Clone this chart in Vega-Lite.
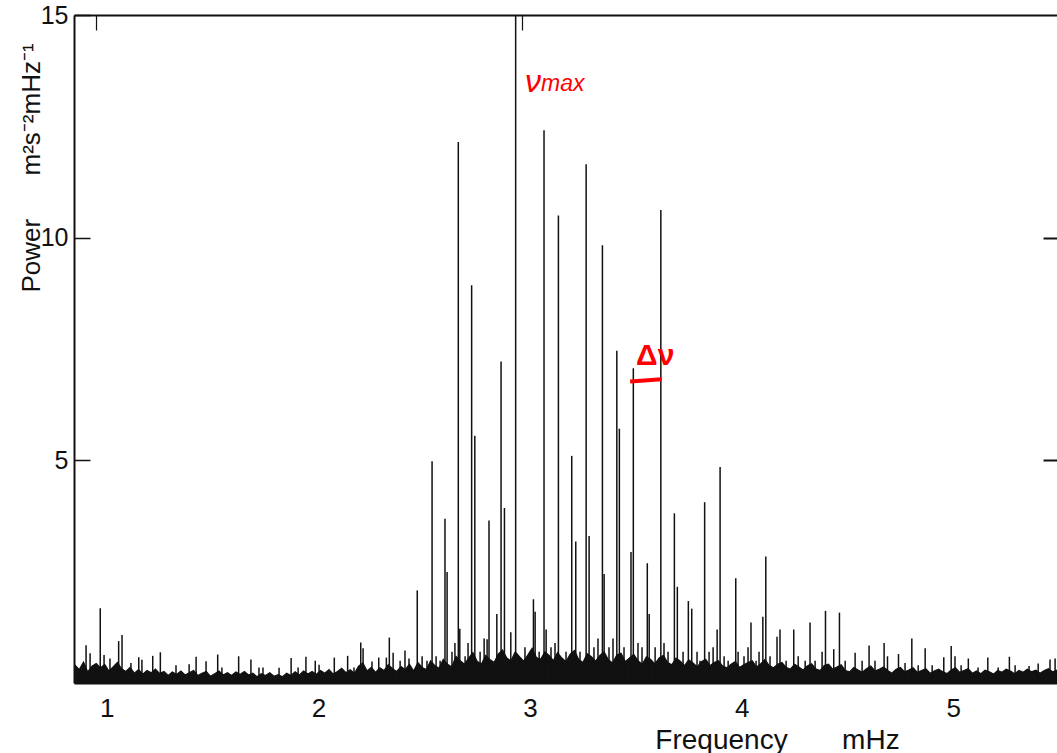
{
  "$schema": "https://vega.github.io/schema/vega-lite/v6.json",
  "width": 983,
  "height": 668,
  "autosize": {"type": "none"},
  "padding": {"left": 74, "top": 15, "right": 0, "bottom": 70},
  "background": "white",
  "config": {
    "view": {"stroke": null},
    "font": "Liberation Sans",
    "axis": {"grid": false, "domainColor": "#111", "tickColor": "#111", "labelColor": "#111", "titleColor": "#111", "labelFont": "Liberation Sans", "titleFont": "Liberation Sans", "titleFontWeight": "normal"}
  },
  "datasets": {
    "noise": [
      {"f":0.85,"p":0.40},{"f":0.87,"p":0.30},{"f":0.89,"p":0.47},{"f":0.91,"p":0.25},{"f":0.93,"p":0.38},{"f":0.95,"p":0.44},{"f":0.97,"p":0.34},{"f":0.99,"p":0.42},{"f":1.01,"p":0.27},{"f":1.03,"p":0.36},{"f":1.05,"p":0.46},{"f":1.07,"p":0.32},{"f":1.09,"p":0.26},{"f":1.11,"p":0.35},{"f":1.13,"p":0.22},{"f":1.15,"p":0.30},{"f":1.17,"p":0.20},{"f":1.19,"p":0.28},{"f":1.21,"p":0.23},{"f":1.23,"p":0.31},{"f":1.25,"p":0.21},{"f":1.27,"p":0.26},{"f":1.29,"p":0.17},{"f":1.31,"p":0.25},{"f":1.33,"p":0.19},{"f":1.35,"p":0.27},{"f":1.37,"p":0.18},{"f":1.39,"p":0.23},{"f":1.41,"p":0.28},{"f":1.43,"p":0.17},{"f":1.45,"p":0.22},{"f":1.47,"p":0.26},{"f":1.49,"p":0.15},{"f":1.51,"p":0.21},{"f":1.53,"p":0.27},{"f":1.55,"p":0.18},{"f":1.57,"p":0.23},{"f":1.59,"p":0.17},{"f":1.61,"p":0.25},{"f":1.63,"p":0.19},{"f":1.65,"p":0.26},{"f":1.67,"p":0.18},{"f":1.69,"p":0.22},{"f":1.71,"p":0.14},{"f":1.73,"p":0.21},{"f":1.75,"p":0.17},{"f":1.77,"p":0.23},{"f":1.79,"p":0.15},{"f":1.81,"p":0.19},{"f":1.83,"p":0.14},{"f":1.85,"p":0.22},{"f":1.87,"p":0.17},{"f":1.89,"p":0.25},{"f":1.91,"p":0.18},{"f":1.93,"p":0.27},{"f":1.95,"p":0.2},{"f":1.97,"p":0.26},{"f":1.99,"p":0.19},{"f":2.01,"p":0.28},{"f":2.03,"p":0.22},{"f":2.05,"p":0.3},{"f":2.07,"p":0.2},{"f":2.09,"p":0.26},{"f":2.11,"p":0.33},{"f":2.13,"p":0.23},{"f":2.15,"p":0.3},{"f":2.17,"p":0.22},{"f":2.19,"p":0.38},{"f":2.21,"p":0.45},{"f":2.23,"p":0.27},{"f":2.25,"p":0.35},{"f":2.27,"p":0.24},{"f":2.29,"p":0.34},{"f":2.31,"p":0.28},{"f":2.33,"p":0.41},{"f":2.35,"p":0.32},{"f":2.37,"p":0.26},{"f":2.39,"p":0.37},{"f":2.41,"p":0.3},{"f":2.43,"p":0.42},{"f":2.45,"p":0.27},{"f":2.47,"p":0.46},{"f":2.49,"p":0.35},{"f":2.51,"p":0.3},{"f":2.53,"p":0.5},{"f":2.55,"p":0.39},{"f":2.57,"p":0.33},{"f":2.59,"p":0.53},{"f":2.61,"p":0.42},{"f":2.63,"p":0.36},{"f":2.65,"p":0.6},{"f":2.67,"p":0.5},{"f":2.69,"p":0.42},{"f":2.71,"p":0.56},{"f":2.73,"p":0.68},{"f":2.75,"p":0.49},{"f":2.77,"p":0.42},{"f":2.79,"p":0.62},{"f":2.81,"p":0.53},{"f":2.83,"p":0.46},{"f":2.85,"p":0.65},{"f":2.87,"p":0.74},{"f":2.89,"p":0.56},{"f":2.91,"p":0.5},{"f":2.93,"p":0.7},{"f":2.95,"p":0.59},{"f":2.97,"p":0.49},{"f":2.99,"p":0.63},{"f":3.01,"p":0.78},{"f":3.03,"p":0.57},{"f":3.05,"p":0.53},{"f":3.07,"p":0.7},{"f":3.09,"p":0.62},{"f":3.11,"p":0.5},{"f":3.13,"p":0.68},{"f":3.15,"p":0.56},{"f":3.17,"p":0.48},{"f":3.19,"p":0.65},{"f":3.21,"p":0.73},{"f":3.23,"p":0.53},{"f":3.25,"p":0.46},{"f":3.27,"p":0.66},{"f":3.29,"p":0.59},{"f":3.31,"p":0.49},{"f":3.33,"p":0.62},{"f":3.35,"p":0.7},{"f":3.37,"p":0.52},{"f":3.39,"p":0.45},{"f":3.41,"p":0.63},{"f":3.43,"p":0.67},{"f":3.45,"p":0.48},{"f":3.47,"p":0.56},{"f":3.49,"p":0.64},{"f":3.51,"p":0.5},{"f":3.53,"p":0.42},{"f":3.55,"p":0.59},{"f":3.57,"p":0.53},{"f":3.59,"p":0.43},{"f":3.61,"p":0.56},{"f":3.63,"p":0.62},{"f":3.65,"p":0.46},{"f":3.67,"p":0.41},{"f":3.69,"p":0.56},{"f":3.71,"p":0.49},{"f":3.73,"p":0.39},{"f":3.75,"p":0.52},{"f":3.77,"p":0.45},{"f":3.79,"p":0.36},{"f":3.81,"p":0.48},{"f":3.83,"p":0.53},{"f":3.85,"p":0.39},{"f":3.87,"p":0.46},{"f":3.89,"p":0.5},{"f":3.91,"p":0.38},{"f":3.93,"p":0.34},{"f":3.95,"p":0.42},{"f":3.97,"p":0.48},{"f":3.99,"p":0.35},{"f":4.01,"p":0.41},{"f":4.03,"p":0.46},{"f":4.05,"p":0.5},{"f":4.07,"p":0.36},{"f":4.09,"p":0.43},{"f":4.11,"p":0.53},{"f":4.13,"p":0.39},{"f":4.15,"p":0.34},{"f":4.17,"p":0.42},{"f":4.19,"p":0.46},{"f":4.21,"p":0.35},{"f":4.23,"p":0.31},{"f":4.25,"p":0.42},{"f":4.27,"p":0.36},{"f":4.29,"p":0.29},{"f":4.31,"p":0.38},{"f":4.33,"p":0.43},{"f":4.35,"p":0.32},{"f":4.37,"p":0.28},{"f":4.39,"p":0.39},{"f":4.41,"p":0.42},{"f":4.43,"p":0.31},{"f":4.45,"p":0.36},{"f":4.47,"p":0.41},{"f":4.49,"p":0.28},{"f":4.51,"p":0.25},{"f":4.53,"p":0.35},{"f":4.55,"p":0.29},{"f":4.57,"p":0.24},{"f":4.59,"p":0.32},{"f":4.61,"p":0.38},{"f":4.63,"p":0.27},{"f":4.65,"p":0.31},{"f":4.67,"p":0.36},{"f":4.69,"p":0.28},{"f":4.71,"p":0.22},{"f":4.73,"p":0.31},{"f":4.75,"p":0.35},{"f":4.77,"p":0.25},{"f":4.79,"p":0.29},{"f":4.81,"p":0.34},{"f":4.83,"p":0.24},{"f":4.85,"p":0.28},{"f":4.87,"p":0.32},{"f":4.89,"p":0.22},{"f":4.91,"p":0.27},{"f":4.93,"p":0.31},{"f":4.95,"p":0.25},{"f":4.97,"p":0.21},{"f":4.99,"p":0.29},{"f":5.01,"p":0.34},{"f":5.03,"p":0.24},{"f":5.05,"p":0.28},{"f":5.07,"p":0.32},{"f":5.09,"p":0.22},{"f":5.11,"p":0.27},{"f":5.13,"p":0.21},{"f":5.15,"p":0.29},{"f":5.17,"p":0.25},{"f":5.19,"p":0.2},{"f":5.21,"p":0.28},{"f":5.23,"p":0.24},{"f":5.25,"p":0.31},{"f":5.27,"p":0.27},{"f":5.29,"p":0.21},{"f":5.31,"p":0.28},{"f":5.33,"p":0.24},{"f":5.35,"p":0.31},{"f":5.37,"p":0.25},{"f":5.39,"p":0.29},{"f":5.41,"p":0.22},{"f":5.43,"p":0.28},{"f":5.45,"p":0.32},{"f":5.47,"p":0.25},{"f":5.49,"p":0.29}
    ],
    "peaks": [
      {"f":0.902,"p":0.85},{"f":0.921,"p":0.67},{"f":0.969,"p":1.68},{"f":0.987,"p":0.63},{"f":1.015,"p":0.55},{"f":1.056,"p":0.94},{"f":1.072,"p":1.08},{"f":1.114,"p":0.45},{"f":1.151,"p":0.58},{"f":1.166,"p":0.52},{"f":1.217,"p":0.61},{"f":1.253,"p":0.69},{"f":1.327,"p":0.4},{"f":1.389,"p":0.42},{"f":1.422,"p":0.59},{"f":1.469,"p":0.49},{"f":1.524,"p":0.64},{"f":1.544,"p":0.35},{"f":1.623,"p":0.6},{"f":1.681,"p":0.53},{"f":1.719,"p":0.35},{"f":1.738,"p":0.35},{"f":1.814,"p":0.34},{"f":1.871,"p":0.56},{"f":1.904,"p":0.35},{"f":1.941,"p":0.59},{"f":1.985,"p":0.5},{"f":2.003,"p":0.41},{"f":2.075,"p":0.57},{"f":2.138,"p":0.61},{"f":2.168,"p":0.35},{"f":2.2,"p":0.91},{"f":2.211,"p":0.78},{"f":2.253,"p":0.48},{"f":2.285,"p":0.57},{"f":2.321,"p":0.57},{"f":2.335,"p":1.02},{"f":2.353,"p":0.68},{"f":2.386,"p":0.5},{"f":2.409,"p":0.73},{"f":2.428,"p":0.55},{"f":2.467,"p":2.08},{"f":2.49,"p":0.6},{"f":2.513,"p":0.5},{"f":2.537,"p":4.98},{"f":2.556,"p":0.6},{"f":2.575,"p":0.5},{"f":2.598,"p":3.69},{"f":2.608,"p":2.49},{"f":2.631,"p":0.7},{"f":2.645,"p":0.9},{"f":2.661,"p":12.15},{"f":2.668,"p":1.22},{"f":2.693,"p":0.6},{"f":2.707,"p":0.9},{"f":2.724,"p":8.93},{"f":2.739,"p":5.55},{"f":2.764,"p":0.7},{"f":2.783,"p":1.0},{"f":2.797,"p":0.98},{"f":2.806,"p":3.65},{"f":2.843,"p":1.55},{"f":2.863,"p":7.22},{"f":2.879,"p":3.93},{"f":2.909,"p":1.14},{"f":2.932,"p":15.3},{"f":2.948,"p":0.6},{"f":2.976,"p":0.8},{"f":3.0,"p":0.7},{"f":3.016,"p":1.88},{"f":3.024,"p":1.6},{"f":3.043,"p":0.7},{"f":3.066,"p":12.41},{"f":3.076,"p":1.2},{"f":3.099,"p":0.8},{"f":3.118,"p":0.9},{"f":3.134,"p":10.5},{"f":3.17,"p":0.7},{"f":3.197,"p":5.1},{"f":3.216,"p":3.18},{"f":3.236,"p":0.7},{"f":3.265,"p":11.65},{"f":3.279,"p":3.3},{"f":3.302,"p":0.8},{"f":3.321,"p":1.0},{"f":3.342,"p":9.83},{"f":3.35,"p":2.45},{"f":3.373,"p":0.8},{"f":3.392,"p":1.0},{"f":3.41,"p":7.46},{"f":3.422,"p":5.71},{"f":3.444,"p":0.8},{"f":3.477,"p":2.94},{"f":3.488,"p":7.07},{"f":3.51,"p":0.9},{"f":3.529,"p":0.8},{"f":3.554,"p":2.69},{"f":3.563,"p":1.55},{"f":3.591,"p":0.8},{"f":3.618,"p":10.62},{"f":3.633,"p":0.9},{"f":3.652,"p":0.7},{"f":3.682,"p":3.81},{"f":3.696,"p":2.16},{"f":3.723,"p":0.7},{"f":3.748,"p":1.84},{"f":3.764,"p":1.67},{"f":3.789,"p":0.7},{"f":3.803,"p":0.5},{"f":3.825,"p":4.06},{"f":3.846,"p":0.7},{"f":3.865,"p":0.8},{"f":3.884,"p":1.2},{"f":3.898,"p":4.85},{"f":3.917,"p":0.6},{"f":3.936,"p":0.5},{"f":3.972,"p":2.35},{"f":3.983,"p":0.7},{"f":4.011,"p":0.6},{"f":4.03,"p":0.8},{"f":4.044,"p":1.36},{"f":4.068,"p":0.5},{"f":4.082,"p":0.7},{"f":4.1,"p":1.49},{"f":4.114,"p":2.84},{"f":4.134,"p":0.6},{"f":4.167,"p":1.04},{"f":4.181,"p":1.2},{"f":4.21,"p":0.5},{"f":4.246,"p":1.2},{"f":4.267,"p":0.6},{"f":4.3,"p":0.5},{"f":4.323,"p":1.36},{"f":4.347,"p":0.5},{"f":4.38,"p":0.7},{"f":4.396,"p":1.62},{"f":4.435,"p":0.76},{"f":4.462,"p":1.58},{"f":4.489,"p":0.5},{"f":4.536,"p":0.68},{"f":4.569,"p":0.5},{"f":4.602,"p":0.84},{"f":4.63,"p":0.5},{"f":4.673,"p":0.9},{"f":4.689,"p":0.6},{"f":4.741,"p":0.65},{"f":4.772,"p":0.45},{"f":4.804,"p":1.0},{"f":4.834,"p":0.4},{"f":4.867,"p":0.78},{"f":4.9,"p":0.4},{"f":4.955,"p":0.58},{"f":4.99,"p":0.83},{"f":5.008,"p":0.6},{"f":5.037,"p":0.4},{"f":5.071,"p":0.55},{"f":5.117,"p":0.35},{"f":5.163,"p":0.57},{"f":5.212,"p":0.35},{"f":5.265,"p":0.59},{"f":5.292,"p":0.4},{"f":5.358,"p":0.38},{"f":5.401,"p":0.44},{"f":5.457,"p":0.53},{"f":5.481,"p":0.55}
    ]
  },
  "resolve": {"axis": {"x": "independent", "y": "independent"}},
  "layer": [
    {
      "data": {"name": "noise"},
      "mark": {"type": "area", "color": "#111", "stroke": "#111", "strokeWidth": 1.2, "clip": true},
      "encoding": {
        "x": {"field": "f", "type": "quantitative", "scale": {"domain": [0.845, 5.49], "nice": false, "zero": false},
          "axis": {"orient": "bottom", "values": [1, 2, 3, 4, 5], "format": "d", "ticks": false, "domainWidth": 2, "labelFontSize": 26, "labelPadding": 12,
            "title": "Frequency\u00a0\u00a0\u00a0\u00a0\u00a0\u00a0\u00a0mHz", "titleFontSize": 28, "titleAlign": "center", "titleBaseline": "middle", "titleX": 703, "titleY": 57}},
        "y": {"field": "p", "type": "quantitative", "scale": {"domain": [0, 15], "nice": false},
          "axis": {"orient": "left", "values": [5, 10, 15], "tickSize": -16, "tickWidth": 1.5, "domainWidth": 2, "labelFontSize": 25, "labelPadding": 22, "labelBaseline": "middle",
            "title": "Power\u00a0\u00a0\u00a0\u00a0\u00a0\u00a0m²s⁻²mHz⁻¹", "titleFontSize": 26, "titleAngle": -90, "titleAlign": "left", "titleBaseline": "alphabetic", "titleX": -35, "titleY": 277}}
      }
    },
    {
      "data": {"name": "peaks"},
      "mark": {"type": "rule", "color": "#111", "strokeWidth": 1.5, "clip": true},
      "encoding": {
        "x": {"field": "f", "type": "quantitative",
          "axis": {"orient": "top", "values": [0.95, 2.96], "labels": false, "tickSize": -15, "tickWidth": 1.2, "domainWidth": 2, "title": null}},
        "y": {"field": "p", "type": "quantitative",
          "axis": {"orient": "right", "values": [5, 10], "labels": false, "domain": false, "tickSize": -14, "tickWidth": 2, "title": null}},
        "y2": {"datum": 0}
      }
    },
    {
      "data": {"values": [{"f": 2.976, "p": 13.27, "label": "ν"}]},
      "mark": {"type": "text", "color": "#ff0000", "font": "Liberation Sans", "fontSize": 32, "fontStyle": "italic", "align": "left", "baseline": "alphabetic"},
      "encoding": {"x": {"field": "f", "type": "quantitative", "axis": null}, "y": {"field": "p", "type": "quantitative", "axis": null}, "text": {"field": "label"}}
    },
    {
      "data": {"values": [{"f": 3.052, "p": 13.29, "label": "max"}]},
      "mark": {"type": "text", "color": "#ff0000", "font": "Liberation Sans", "fontSize": 23, "fontStyle": "italic", "align": "left", "baseline": "alphabetic"},
      "encoding": {"x": {"field": "f", "type": "quantitative", "axis": null}, "y": {"field": "p", "type": "quantitative", "axis": null}, "text": {"field": "label"}}
    },
    {
      "data": {"values": [{"f": 3.501, "p": 7.14, "label": "Δν"}]},
      "mark": {"type": "text", "color": "#ff0000", "font": "Liberation Sans", "fontSize": 30, "fontWeight": "bold", "align": "left", "baseline": "alphabetic"},
      "encoding": {"x": {"field": "f", "type": "quantitative", "axis": null}, "y": {"field": "p", "type": "quantitative", "axis": null}, "text": {"field": "label"}}
    },
    {
      "data": {"values": [{"f": 3.473, "f2": 3.622, "p": 6.77, "p2": 6.82}]},
      "mark": {"type": "rule", "color": "#ff0000", "strokeWidth": 4},
      "encoding": {"x": {"field": "f", "type": "quantitative", "axis": null}, "x2": {"field": "f2"}, "y": {"field": "p", "type": "quantitative", "axis": null}, "y2": {"field": "p2"}}
    }
  ]
}
